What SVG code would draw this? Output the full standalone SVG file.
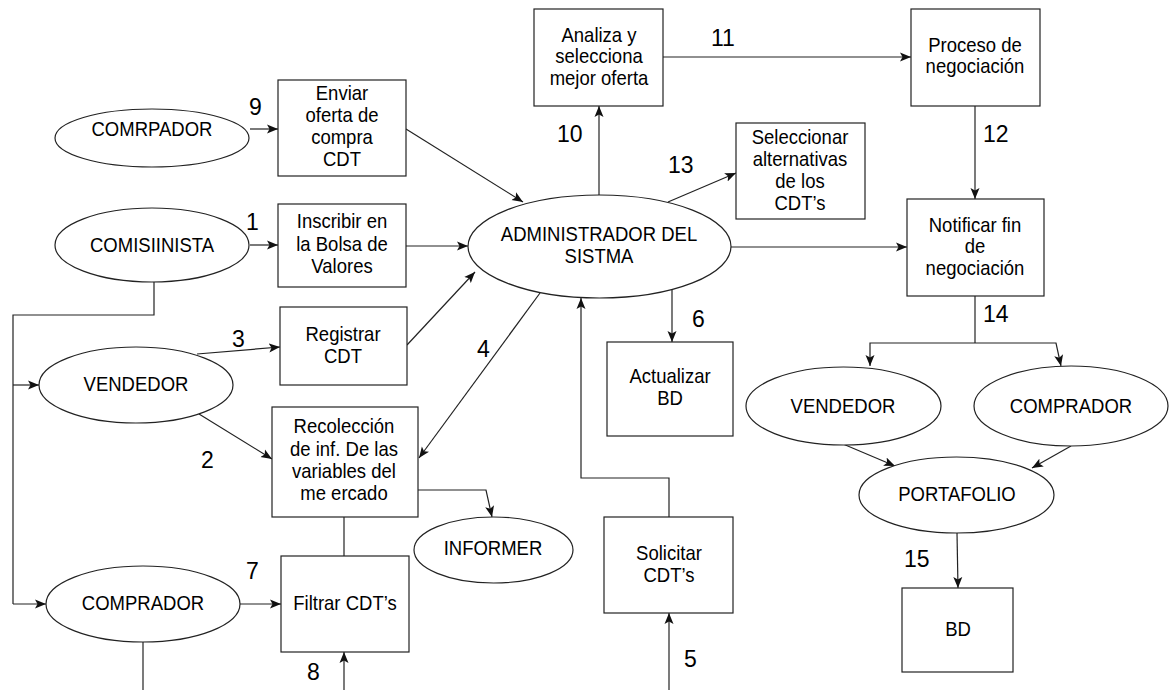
<svg xmlns="http://www.w3.org/2000/svg" width="1170" height="690" viewBox="0 0 1170 690">
  <style>
    .box { fill: #fff; stroke: #222; stroke-width: 1.2; }
    .ell { fill: #fff; stroke: #222; stroke-width: 1.2; }
    .t { font-family: "Liberation Sans", Arial, sans-serif; font-size: 19.8px; fill: #000; text-anchor: middle;
         transform-box: fill-box; transform-origin: center; transform: scaleX(0.935); }
    .n { font-family: "Liberation Sans", Arial, sans-serif; font-size: 23px; fill: #000; }
    .c { fill: none; stroke: #222; stroke-width: 1.2; }
    .a { marker-end: url(#arrow); }
  </style>
  <defs>
    <marker id="arrow" markerUnits="userSpaceOnUse" markerWidth="12" markerHeight="10" refX="11" refY="5" orient="auto">
      <path d="M0,0.5 L11,5 L0,9.5 L2.5,5 z" fill="#111"/>
    </marker>
  </defs>

  <rect width="1170" height="690" fill="#fff"/>

  <!-- connectors -->
  <g id="connectors">
    <line class="c a" x1="250" y1="129" x2="278" y2="129"/>
    <line class="c a" x1="250" y1="245" x2="278" y2="245"/>
    <polyline class="c" points="154,282 154,315 13,315 13,604"/>
    <line class="c a" x1="13" y1="385" x2="39" y2="385"/>
    <line class="c a" x1="13" y1="604" x2="46" y2="604"/>
    <line class="c a" x1="197" y1="354" x2="280" y2="347"/>
    <line class="c a" x1="199" y1="414" x2="272" y2="459"/>
    <line class="c a" x1="240" y1="604" x2="281" y2="604"/>
    <line class="c" x1="143" y1="636" x2="143" y2="690"/>
    <line class="c a" x1="344" y1="690" x2="344" y2="652"/>
    <line class="c" x1="344" y1="517" x2="344" y2="556"/>
    <polyline class="c a" points="418,490 486,490 492,517"/>
    <line class="c a" x1="406" y1="129" x2="523" y2="202"/>
    <line class="c a" x1="406" y1="246" x2="468" y2="246"/>
    <line class="c a" x1="407" y1="345" x2="475" y2="272"/>
    <line class="c a" x1="540" y1="293" x2="419" y2="458"/>
    <line class="c a" x1="599" y1="195" x2="599" y2="106"/>
    <line class="c a" x1="663" y1="57" x2="911" y2="57"/>
    <line class="c a" x1="668" y1="202" x2="736" y2="173"/>
    <line class="c a" x1="731" y1="247" x2="907" y2="247"/>
    <line class="c a" x1="672" y1="290" x2="672" y2="342"/>
    <polyline class="c a" points="669,517 669,478 581,478 581,298"/>
    <line class="c a" x1="669" y1="690" x2="669" y2="613"/>
    <line class="c a" x1="975" y1="106" x2="975" y2="199"/>
    <polyline class="c" points="975,296 975,343"/>
    <polyline class="c a" points="975,343 870,343 870,366"/>
    <polyline class="c a" points="975,343 1056,343 1061,366"/>
    <line class="c a" x1="843" y1="444" x2="895" y2="466"/>
    <line class="c a" x1="1071" y1="446" x2="1032" y2="468"/>
    <line class="c a" x1="957" y1="533" x2="958" y2="588"/>
  </g>

  <!-- flow numbers -->
  <g id="labels">
    <text class="n" x="249" y="115">9</text>
    <text class="n" x="246" y="230">1</text>
    <text class="n" x="232" y="347">3</text>
    <text class="n" x="201" y="468">2</text>
    <text class="n" x="246" y="579">7</text>
    <text class="n" x="307" y="680">8</text>
    <text class="n" x="477" y="357">4</text>
    <text class="n" x="557" y="142">10</text>
    <text class="n" x="711" y="46">11</text>
    <text class="n" x="668" y="173">13</text>
    <text class="n" x="692" y="327">6</text>
    <text class="n" x="684" y="667">5</text>
    <text class="n" x="983" y="142">12</text>
    <text class="n" x="983" y="322">14</text>
    <text class="n" x="904" y="567">15</text>
  </g>

  <g id="comprador-oferta">
    <ellipse class="ell" cx="152" cy="138" rx="97" ry="29"/>
    <text class="t" x="152" y="136">COMRPADOR</text>
  </g>
  <g id="enviar-oferta">
    <rect class="box" x="278" y="80" width="128" height="96"/>
    <text class="t" x="342" y="100">Enviar</text>
    <text class="t" x="342" y="122">oferta de</text>
    <text class="t" x="342" y="144">compra</text>
    <text class="t" x="342" y="166">CDT</text>
  </g>
  <g id="comisionista">
    <ellipse class="ell" cx="152" cy="245" rx="97" ry="37"/>
    <text class="t" x="152" y="252">COMISIINISTA</text>
  </g>
  <g id="inscribir">
    <rect class="box" x="278" y="204" width="128" height="83"/>
    <text class="t" x="342" y="228">Inscribir en</text>
    <text class="t" x="342" y="251">la Bolsa de</text>
    <text class="t" x="342" y="273">Valores</text>
  </g>
  <g id="vendedor-izq">
    <ellipse class="ell" cx="136" cy="385" rx="97" ry="38"/>
    <text class="t" x="136" y="391">VENDEDOR</text>
  </g>
  <g id="registrar">
    <rect class="box" x="280" y="307" width="127" height="78"/>
    <text class="t" x="343" y="341">Registrar</text>
    <text class="t" x="343" y="363">CDT</text>
  </g>
  <g id="recoleccion">
    <rect class="box" x="272" y="407" width="146" height="110"/>
    <text class="t" x="344" y="433">Recolección</text>
    <text class="t" x="344" y="456">de inf. De las</text>
    <text class="t" x="344" y="478">variables del</text>
    <text class="t" x="344" y="500">me ercado</text>
  </g>
  <g id="informer">
    <ellipse class="ell" cx="493.5" cy="550" rx="79.5" ry="33"/>
    <text class="t" x="493" y="555">INFORMER</text>
  </g>
  <g id="comprador-izq">
    <ellipse class="ell" cx="143" cy="604" rx="97" ry="38"/>
    <text class="t" x="143" y="610">COMPRADOR</text>
  </g>
  <g id="filtrar">
    <rect class="box" x="281" y="556" width="128" height="96"/>
    <text class="t" x="345" y="610">Filtrar CDT’s</text>
  </g>
  <g id="administrador">
    <ellipse class="ell" cx="599.5" cy="246.5" rx="131.5" ry="51.5"/>
    <text class="t" x="599" y="241">ADMINISTRADOR DEL</text>
    <text class="t" x="599" y="263">SISTMA</text>
  </g>
  <g id="analiza">
    <rect class="box" x="534" y="9" width="129" height="97"/>
    <text class="t" x="599" y="42">Analiza y</text>
    <text class="t" x="599" y="63">selecciona</text>
    <text class="t" x="599" y="85">mejor oferta</text>
  </g>
  <g id="seleccionar">
    <rect class="box" x="736" y="123" width="129" height="96"/>
    <text class="t" x="800" y="144">Seleccionar</text>
    <text class="t" x="800" y="166">alternativas</text>
    <text class="t" x="800" y="188">de los</text>
    <text class="t" x="800" y="210">CDT’s</text>
  </g>
  <g id="actualizar">
    <rect class="box" x="607" y="342" width="126" height="94"/>
    <text class="t" x="670" y="383">Actualizar</text>
    <text class="t" x="670" y="405">BD</text>
  </g>
  <g id="solicitar">
    <rect class="box" x="604" y="517" width="129" height="96"/>
    <text class="t" x="669" y="560">Solicitar</text>
    <text class="t" x="669" y="582">CDT’s</text>
  </g>
  <g id="proceso">
    <rect class="box" x="911" y="9" width="129" height="97"/>
    <text class="t" x="975" y="52">Proceso de</text>
    <text class="t" x="975" y="73">negociación</text>
  </g>
  <g id="notificar">
    <rect class="box" x="907" y="199" width="137" height="97"/>
    <text class="t" x="975" y="232">Notificar fin</text>
    <text class="t" x="975" y="253">de</text>
    <text class="t" x="975" y="275">negociación</text>
  </g>
  <g id="vendedor-der">
    <ellipse class="ell" cx="843.5" cy="406" rx="97.5" ry="39"/>
    <text class="t" x="843" y="413">VENDEDOR</text>
  </g>
  <g id="comprador-der">
    <ellipse class="ell" cx="1071" cy="406" rx="97" ry="40"/>
    <text class="t" x="1071" y="413">COMPRADOR</text>
  </g>
  <g id="portafolio">
    <ellipse class="ell" cx="956.5" cy="495" rx="97.5" ry="38"/>
    <text class="t" x="957" y="501">PORTAFOLIO</text>
  </g>
  <g id="bd">
    <rect class="box" x="902" y="588" width="111" height="84"/>
    <text class="t" x="958" y="636">BD</text>
  </g>
</svg>
